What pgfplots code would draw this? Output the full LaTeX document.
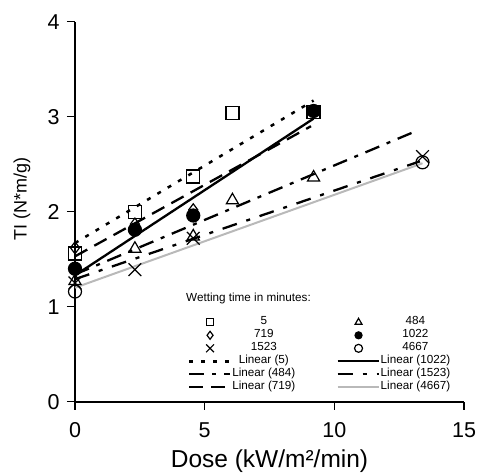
\documentclass[border=0pt]{standalone}
\usepackage{fontspec}
\setmainfont{Liberation Sans}
\usepackage{pgfplots}
\pgfplotsset{compat=1.18}
\definecolor{lgray}{RGB}{185,185,185}
\begin{document}
\begin{tikzpicture}
\begin{axis}[
  at={(0,0)}, anchor=origin,
  scale only axis, width=389pt, height=380pt,
  xmin=0, xmax=15, ymin=0, ymax=4,
  axis x line*=bottom, axis y line*=left,
  axis line style={line width=1.8pt},
  xtick={0,5,10,15}, ytick={0,1,2,3,4},
  tick align=outside, major tick length=8pt,
  tick style={black, line width=1.5pt},
  minor tick num=0,
  /pgf/number format/assume math mode=true,
  ticklabel style={font=\fontsize{21.5}{22}\selectfont},
  xticklabel style={yshift=-9pt},
  yticklabel style={xshift=-4pt},
  xlabel={Dose (kW/m²/min)}, ylabel={TI (N*m/g)},
  every axis x label/.style={at={(rel axis cs:0.5,0)}, anchor=base, yshift=-66pt, font=\fontsize{24.5}{25}\selectfont},
  every axis y label/.style={at={(rel axis cs:-0.1362,0.533)}, rotate=90, anchor=center, font=\fontsize{18}{18}\selectfont},
  clip=false,
  legend columns=2,
  legend style={at={(rel axis cs:0.29,0.226)}, anchor=north west, draw=none, fill=none, inner sep=0pt, outer sep=0pt, row sep=0pt, font=\fontsize{11.7}{12}\selectfont, nodes={inner sep=1pt, text height=8pt, text depth=3pt}, /tikz/every even column/.append style={column sep=40pt}},
  lineleg/.style={legend image code/.code={\draw[##1] (0pt,0pt) -- (41pt,0pt);}},
  markleg/.style={legend image code/.code={\draw[##1,mark size=#1] plot coordinates {(21pt,0pt)};}},
]
\addplot[only marks, mark=square, mark size=6.5pt, mark options={line width=1.2pt}, markleg=3.5pt]
  coordinates {(0,1.56) (2.31,2.00) (4.56,2.37) (6.07,3.04) (9.2,3.05)};
\addlegendentry{5}
\addplot[only marks, mark=triangle, mark size=7pt, mark options={line width=1.2pt}, markleg=4pt]
  coordinates {(0,1.27) (2.31,1.61) (4.56,1.74) (6.07,2.12) (9.2,2.36)};
\addlegendentry{484}
\addplot[only marks, mark=diamond, mark size=6pt, mark options={line width=1.2pt}, markleg=4pt]
  coordinates {(0,1.62) (2.31,1.87) (4.56,2.02) (9.2,3.05)};
\addlegendentry{719}
\addplot[only marks, mark=*, mark size=6.5pt, mark options={line width=1.2pt, fill=black}, markleg=3.5pt]
  coordinates {(0,1.40) (2.31,1.81) (4.56,1.96) (9.2,3.06)};
\addlegendentry{1022}
\addplot[only marks, mark=x, mark size=9pt, mark options={line width=1.2pt}, markleg=5.5pt]
  coordinates {(0,1.25) (2.31,1.39) (4.56,1.72) (13.4,2.58)};
\addlegendentry{1523}
\addplot[only marks, mark=o, mark size=6.5pt, mark options={line width=1.2pt}, markleg=4pt]
  coordinates {(0,1.16) (13.4,2.52)};
\addlegendentry{4667}
\addplot[lineleg, line width=2.5pt, dash pattern=on 4pt off 8pt] coordinates {(0,1.67) (9.2,3.17)};
\addlegendentry{Linear (5)}
\addplot[lineleg, line width=2.3pt] coordinates {(0,1.33) (9.2,2.98)};
\addlegendentry{Linear (1022)}
\addplot[lineleg, line width=2.3pt, dash pattern=on 15pt off 8pt on 4pt off 8pt] coordinates {(0,1.34) (13.25,2.86)};
\addlegendentry{Linear (484)}
\addplot[lineleg, line width=2.3pt, dash pattern=on 15pt off 10pt on 4pt off 10pt] coordinates {(0,1.29) (13.3,2.53)};
\addlegendentry{Linear (1523)}
\addplot[lineleg, line width=2.3pt, dash pattern=on 14pt off 8pt] coordinates {(0,1.53) (9.1,2.90)};
\addlegendentry{Linear (719)}
\addplot[lineleg, lgray, line width=2pt] coordinates {(0,1.20) (13.4,2.51)};
\addlegendentry{Linear (4667)}
\node[anchor=west, inner sep=0pt, font=\fontsize{11.7}{12}\selectfont] at (rel axis cs:0.2853,0.272) {Wetting time in minutes:};
\end{axis}
\pgfresetboundingbox
\path[use as bounding box] (-75pt,-72.3pt) rectangle (403pt,401.7pt);
\end{tikzpicture}
\end{document}
